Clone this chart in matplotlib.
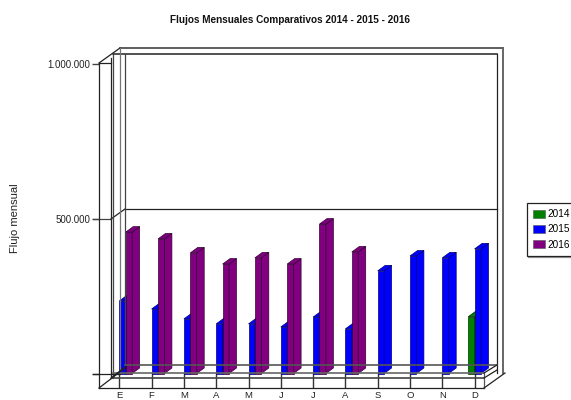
import matplotlib
matplotlib.use("Agg")
import matplotlib.pyplot as plt
from matplotlib.lines import Line2D
from matplotlib.patches import Patch, Polygon

plt.rcParams["font.family"] = ["Liberation Sans", "DejaVu Sans"]

months = ["E", "F", "M", "A", "M", "J", "J", "A", "S", "O", "N", "D"]
flujo_2014 = [None, None, None, None, None, None, None, None, None, None, None, 183000]
flujo_2015 = [234000, 208000, 176000, 160000, 160000, 150000, 182000, 144000, 331000, 379000, 373000, 402000]
flujo_2016 = [456000, 434000, 389000, 353000, 373000, 353000, 482000, 392000, None, None, None, None]
y_ticks = [0, 500000, 1000000]
y_labels = ["", "500.000", "1.000.000"]
series = [("2014", flujo_2014, "#008000", "#003000", -1),
          ("2015", flujo_2015, "#0000ff", "#000070", 0),
          ("2016", flujo_2016, "#800080", "#300030", 1)]

W, H = 571, 400
fig = plt.figure(figsize=(W / 100, H / 100), dpi=100)

# front of the box, in pixels of the picture
left, right, top, bottom = 99, 484, 63.5, 388
zero_y = 373.5
step = 32.3
first_x = 119.3
per_value = 310 / 1000000

ax = fig.add_axes([left / W, 1 - bottom / H, (right - left) / W, (bottom - top) / H])
ax.set_xlim((left - first_x) / step, (right - first_x) / step)
ax.set_ylim((zero_y - bottom) / per_value, 1000000)
ax.patch.set_visible(False)
for s in ax.spines.values():
    s.set_visible(False)

# depth of one bar, in data units
depth_x = 7.5 / step
depth_y = 5.5 / per_value
bar_w = 6.4 / step


def frame(xs, ys, color="#222222", lw=0.9):
    fig.add_artist(Line2D([x / W for x in xs], [1 - y / H for y in ys], color=color, lw=lw,
                          transform=fig.transFigure, zorder=1))


# walls and floor
frame([120, 503], [48, 48], color="#333333", lw=1.1)
frame([113, 497], [54, 54], lw=1.1)
frame([125, 497], [209, 209])
frame([93, 111], [219, 219], color="#444444")
frame([99, 111], [63, 63])
frame([99, 120], [63, 48])
frame([111, 125], [219, 209])
frame([99, 99], [63, 388])
frame([111, 111], [58, 378])
frame([113, 113], [54, 378], color="#444444")
frame([120, 120], [48, 373], color="#777777")
frame([125, 125], [54, 365], color="#444444")
frame([497, 497], [54, 373])
frame([503, 503], [48, 373], color="#666666", lw=1.4)
frame([125, 497], [365, 365], color="#555555", lw=1.2)
frame([113, 484], [373, 373], color="#666666", lw=1.2)
frame([113, 484], [377.5, 377.5], color="#444444", lw=1.2)
frame([99, 484], [388, 388])
frame([93, 120], [374, 374])
frame([484, 484], [373, 388], color="#555555")
frame([99, 125], [388, 368])
frame([111, 125], [378, 367])
frame([484, 505], [388, 373])
frame([484, 497], [373, 365])
frame([484, 497], [378, 370])

for name, values, color, edge, offset in series:
    for i, v in enumerate(values):
        if v is None:
            continue
        x0 = i + offset * bar_w
        x1 = x0 + bar_w
        ax.bar(x0, v, width=bar_w, align="edge", color=color, edgecolor=edge, linewidth=0.5,
               zorder=3 + offset, clip_on=False)
        side = [(x1, 0), (x1 + depth_x, depth_y), (x1 + depth_x, v + depth_y), (x1, v)]
        lid = [(x0, v), (x0 + depth_x, v + depth_y), (x1 + depth_x, v + depth_y), (x1, v)]
        for pts in (side, lid):
            ax.add_patch(Polygon(pts, closed=True, facecolor=color, edgecolor=edge, linewidth=0.5,
                                 zorder=3 + offset, clip_on=False))

ax.set_xticks(range(len(months)), months)
ax.set_yticks(y_ticks, y_labels)
ax.tick_params(axis="x", direction="in", length=11, width=1, color="#333333", labelsize=6.8, pad=2.5,
               labelcolor="#222222")
ax.tick_params(axis="y", length=5, width=1, color="#444444", labelsize=7, pad=1, labelcolor="#222222")

fig.text(289.5 / W, 1 - 20 / H, "Flujos Mensuales Comparativos 2014 - 2015 - 2016", ha="center", va="center",
         fontsize=7.2, fontweight="bold", color="#111111")
fig.text(15.5 / W, 1 - 218 / H, "Flujo mensual", rotation=90, ha="center", va="center", fontsize=8, color="#222222")

handles = [Patch(facecolor=color, edgecolor="#555555", linewidth=0.4, label=name) for name, _, color, _, _ in series]
leg = fig.legend(handles=handles, loc="upper left", bbox_to_anchor=(527 / W, 1 - 203 / H), fontsize=7.2,
                 frameon=True, fancybox=False, shadow={"color": "#999999", "alpha": 1, "ox": 1, "oy": -1},
                 edgecolor="#222222", framealpha=1, borderpad=0.62, labelspacing=0.52, handlelength=1.2,
                 handleheight=0.9, handletextpad=0.25, borderaxespad=0)
leg.get_frame().set_linewidth(0.9)

fig.savefig("out.png", dpi=100)
